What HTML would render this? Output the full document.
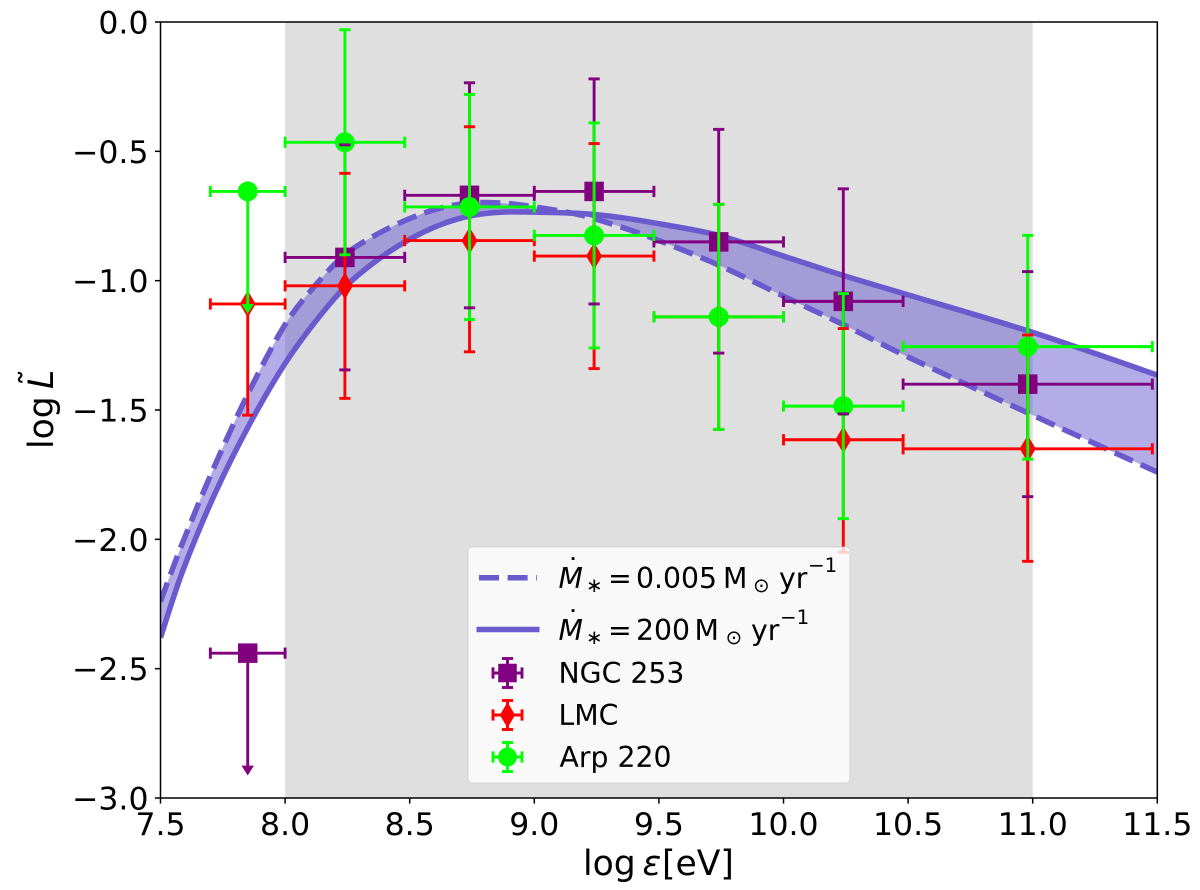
<!DOCTYPE html>
<html>
<head>
<meta charset="utf-8">
<title>log L vs log energy</title>
<style>
html,body{margin:0;padding:0;background:#fff;}
svg{display:block;font-family:"DejaVu Sans","Liberation Sans",sans-serif;}
text{fill:#000;}
</style>
</head>
<body>
<svg id="chart" xmlns="http://www.w3.org/2000/svg" width="1200" height="890" viewBox="0 0 1200 890">
  <defs><clipPath id="plot-clip"><rect x="160.5" y="22" width="996.8" height="776"/></clipPath></defs>
  <g id="plot"></g>
  <g id="frame"></g>
  <g id="legend">
    <rect x="468" y="547" width="382" height="236" rx="4" ry="4" fill="#fff" fill-opacity="0.8" stroke="#ccc" stroke-opacity="0.8" stroke-width="1"/>
    <line x1="479" y1="577.7" x2="537" y2="577.7" stroke="#6a5acd" stroke-width="5.5" stroke-dasharray="20 8.6"/>
    <line x1="476.5" y1="629.5" x2="539.5" y2="629.5" stroke="#6a5acd" stroke-width="5.5"/>
    <g font-size="28.3">
      <text x="566" y="579">˙</text>
      <text x="558.5" y="588" font-style="italic">M</text>
      <text x="586" y="592" font-size="19.8">∗</text>
      <text x="608" y="588">=</text>
      <text x="636" y="588">0.005</text>
      <text x="723" y="588">M</text>
      <text x="753" y="592" font-size="19.8">⊙</text>
      <text x="779" y="588">yr</text>
      <text x="808" y="572" font-size="19.8">−1</text>
    </g>
    <g font-size="28.3">
      <text x="566" y="631">˙</text>
      <text x="558.5" y="640" font-style="italic">M</text>
      <text x="586" y="644" font-size="19.8">∗</text>
      <text x="608" y="640">=</text>
      <text x="636" y="640">200</text>
      <text x="694.5" y="640">M</text>
      <text x="725.5" y="644" font-size="19.8">⊙</text>
      <text x="751" y="640">yr</text>
      <text x="780" y="624" font-size="19.8">−1</text>
    </g>
    <text x="558.5" y="683" font-size="28.3">NGC 253</text>
    <text x="558.5" y="725" font-size="28.3">LMC</text>
    <text x="559.5" y="767" font-size="28.3">Arp 220</text>
  </g>
  <g font-size="34.6">
    <text x="583" y="875">log</text>
    <text x="642.5" y="875" font-style="italic">ε</text>
    <text x="662" y="875">[eV]</text>
  </g>
  <g font-size="34.6">
    <text transform="translate(53,449) rotate(-90)">log</text>
    <text transform="translate(53,389) rotate(-90)" font-style="italic">L</text>
    <text transform="translate(45,386) rotate(-90)">˜</text>
  </g>
</svg>
<script>
var xTicks = [7.5, 8.0, 8.5, 9.0, 9.5, 10.0, 10.5, 11.0, 11.5];
var xTickLabels = ["7.5", "8.0", "8.5", "9.0", "9.5", "10.0", "10.5", "11.0", "11.5"];
var yTicks = [0, -0.5, -1, -1.5, -2, -2.5, -3];
var yTickLabels = ["0.0", "−0.5", "−1.0", "−1.5", "−2.0", "−2.5", "−3.0"];

var shadeStart = 8.0;
var shadeEnd = 11.0;

var curveEnergy = [7.5, 7.59, 7.72, 7.86, 8.0, 8.12, 8.24, 8.37, 8.5, 8.62, 8.74, 8.87, 9.0, 9.18, 9.34, 9.5, 9.74, 10.0, 10.24, 10.5, 11.0, 11.5];
var curveLowRate = [-2.24, -2.01, -1.71, -1.42, -1.17, -1.02, -0.9, -0.82, -0.76, -0.72, -0.7, -0.7, -0.715, -0.745, -0.79, -0.845, -0.94, -1.06, -1.17, -1.295, -1.52, -1.74];
var curveHighRate = [-2.38, -2.12, -1.82, -1.55, -1.32, -1.16, -1.025, -0.92, -0.84, -0.785, -0.75, -0.735, -0.735, -0.74, -0.755, -0.78, -0.825, -0.905, -0.98, -1.055, -1.2, -1.365];

var binCenter = [7.85, 8.24, 8.74, 9.24, 9.74, 10.24, 10.98];
var binLow = [7.7, 8.0, 8.48, 9.0, 9.48, 10.0, 10.48];
var binHigh = [8.0, 8.48, 9.0, 9.48, 10.0, 10.48, 11.48];

var ngcValue = [-2.44, -0.91, -0.67, -0.655, -0.85, -1.08, -1.40];
var ngcUpper = [null, -0.475, -0.235, -0.22, -0.415, -0.645, -0.965];
var ngcLower = [-2.875, -1.345, -1.105, -1.09, -1.28, -1.515, -1.835];
var ngcIsLimit = [true, false, false, false, false, false, false];

var lmcValue = [-1.09, -1.02, -0.845, -0.905, -1.14, -1.615, -1.65];
var lmcUpper = [null, -0.585, -0.405, -0.47, -0.705, -1.185, -1.21];
var lmcLower = [-1.52, -1.455, -1.275, -1.34, -1.575, -2.05, -2.085];
var lmcIsLimit = [false, false, false, false, false, false, false];

var arpValue = [-0.655, -0.465, -0.715, -0.825, -1.14, -1.485, -1.255];
var arpUpper = [null, -0.03, -0.28, -0.39, -0.705, -1.05, -0.825];
var arpLower = [-1.09, -0.9, -1.15, -1.26, -1.575, -1.92, -1.69];
var arpIsLimit = [true, false, false, false, false, false, false];

var SVGNS = "http://www.w3.org/2000/svg";
var plot = document.getElementById("plot");
var frame = document.getElementById("frame");
var legend = document.getElementById("legend");

var X0 = 160.5, XPX = 249.2, Y0 = 22, YPX = 258.67;
function sx(v) { return X0 + (v - 7.5) * XPX; }
function sy(v) { return Y0 - v * YPX; }

function make(parent, tag, attrs) {
  var el = document.createElementNS(SVGNS, tag);
  for (var k in attrs) el.setAttribute(k, attrs[k]);
  parent.appendChild(el);
  return el;
}

function smoothSegments(pts) {
  var d = "";
  for (var i = 0; i < pts.length - 1; i++) {
    var p0 = pts[Math.max(i - 1, 0)], p1 = pts[i], p2 = pts[i + 1], p3 = pts[Math.min(i + 2, pts.length - 1)];
    d += "C" + (p1[0] + (p2[0] - p0[0]) / 6).toFixed(2) + "," + (p1[1] + (p2[1] - p0[1]) / 6).toFixed(2) + " " +
         (p2[0] - (p3[0] - p1[0]) / 6).toFixed(2) + "," + (p2[1] - (p3[1] - p1[1]) / 6).toFixed(2) + " " +
         p2[0].toFixed(2) + "," + p2[1].toFixed(2);
  }
  return d;
}
function curvePoints(values) {
  return curveEnergy.map(function (e, i) { return [sx(e), sy(values[i])]; });
}

var shade = make(plot, "rect", { x: sx(shadeStart), y: Y0, width: sx(shadeEnd) - sx(shadeStart), height: 776, fill: "#dfdfdf" });



var lowPts = curvePoints(curveLowRate);
var highPts = curvePoints(curveHighRate);
var revHigh = highPts.slice().reverse();
var bandD = "M" + lowPts[0][0] + "," + lowPts[0][1] + smoothSegments(lowPts) +
            "L" + revHigh[0][0] + "," + revHigh[0][1] + smoothSegments(revHigh) + "Z";
var band = make(plot, "path", { d: bandD, fill: "#6a5acd", "fill-opacity": 0.5, "clip-path": "url(#plot-clip)" });



var lowLine = make(plot, "path", { d: "M" + lowPts[0][0] + "," + lowPts[0][1] + smoothSegments(lowPts), fill: "none", stroke: "#6a5acd", "stroke-width": 5.5, "stroke-dasharray": "20 8.6", "clip-path": "url(#plot-clip)" });



var highLine = make(plot, "path", { d: "M" + highPts[0][0] + "," + highPts[0][1] + smoothSegments(highPts), fill: "none", stroke: "#6a5acd", "stroke-width": 5.5, "clip-path": "url(#plot-clip)" });



var markerLayer = make(plot, "g", {});


var barLayer = make(plot, "g", {});


var capLayer = make(plot, "g", {});



function bar(parent, x1, y1, x2, y2, color) {
  return make(parent, "line", { x1: x1, y1: y1, x2: x2, y2: y2, stroke: color, "stroke-width": 2.9 });
}
function drawMarker(parent, shape, cx, cy, color, scale) {
  if (shape === "square") {
    var s = 19.5 * scale;
    return make(parent, "rect", { x: cx - s / 2, y: cy - s / 2, width: s, height: s, fill: color });
  }
  if (shape === "diamond") {
    var w = 8 * scale, h = 13.5 * scale;
    return make(parent, "polygon", { points: cx + "," + (cy - h) + " " + (cx + w) + "," + cy + " " + cx + "," + (cy + h) + " " + (cx - w) + "," + cy, fill: color });
  }
  return make(parent, "circle", { cx: cx, cy: cy, r: 10 * scale, fill: color });
}

function drawSeries(name, shape, color, values, upper, lower, isLimit) {
  var gm = make(markerLayer, "g", {});
  
  
  var gb = make(barLayer, "g", {});
  
  
  var gc = make(capLayer, "g", {});
  
  
  for (var i = 0; i < binCenter.length; i++) {
    var px = sx(binCenter[i]), py = sy(values[i]);
    var lo = sy(lower[i]);
    var mk = drawMarker(gm, shape, px, py, color, 1);
    
    
    bar(gb, sx(binLow[i]), py, sx(binHigh[i]), py, color);
    bar(gb, px, upper[i] === null ? py : sy(upper[i]), px, lo + (isLimit[i] ? 4 : 0), color);
    bar(gc, sx(binLow[i]), py - 5.6, sx(binLow[i]), py + 5.6, color);
    bar(gc, sx(binHigh[i]), py - 5.6, sx(binHigh[i]), py + 5.6, color);
    if (upper[i] !== null) bar(gc, px - 5.6, sy(upper[i]), px + 5.6, sy(upper[i]), color);
    if (isLimit[i]) {
      make(gc, "polygon", { points: (px - 6.2) + "," + lo + " " + (px + 6.2) + "," + lo + " " + px + "," + (lo + 9.8), fill: color });
    } else {
      bar(gc, px - 5.6, lo, px + 5.6, lo, color);
    }
  }
}
drawSeries("ngc253", "square", "#800080", ngcValue, ngcUpper, ngcLower, ngcIsLimit);
drawSeries("lmc", "diamond", "#ff0000", lmcValue, lmcUpper, lmcLower, lmcIsLimit);
drawSeries("arp220", "circle", "#00ff00", arpValue, arpUpper, arpLower, arpIsLimit);

xTicks.forEach(function (t, i) {
  var tick = make(frame, "line", { x1: sx(t), y1: 798, x2: sx(t), y2: 803.6, stroke: "#000", "stroke-width": 1.5 });
  
  
  var lab = make(frame, "text", { x: sx(t), y: 835, "font-size": 31.5, "text-anchor": "middle" });
  lab.textContent = xTickLabels[i];
  
  
});
yTicks.forEach(function (t, i) {
  var tick = make(frame, "line", { x1: 154.9, y1: sy(t), x2: 160.5, y2: sy(t), stroke: "#000", "stroke-width": 1.5 });
  
  
  var lab = make(frame, "text", { x: 148.5, y: sy(t) + 11.5, "font-size": 31.5, "text-anchor": "end" });
  lab.textContent = yTickLabels[i];
  
  
});
var spines = make(frame, "rect", { x: 160.5, y: 22, width: 996.8, height: 776, fill: "none", stroke: "#000", "stroke-width": 1.5 });



function legendKey(name, shape, color, cy) {
  var g = make(legend, "g", {});
  
  
  var cx = 507.5, r = 14.5;
  bar(g, cx - r, cy, cx + r, cy, color);
  bar(g, cx, cy - r, cx, cy + r, color);
  bar(g, cx - r, cy - 5.6, cx - r, cy + 5.6, color);
  bar(g, cx + r, cy - 5.6, cx + r, cy + 5.6, color);
  bar(g, cx - 5.6, cy - r, cx + 5.6, cy - r, color);
  bar(g, cx - 5.6, cy + r, cx + 5.6, cy + r, color);
  drawMarker(g, shape, cx, cy, color, 0.95);
}
legendKey("legend-key-ngc253", "square", "#800080", 673);
legendKey("legend-key-lmc", "diamond", "#ff0000", 715);
legendKey("legend-key-arp220", "circle", "#00ff00", 757);
</script>
</body>
</html>
